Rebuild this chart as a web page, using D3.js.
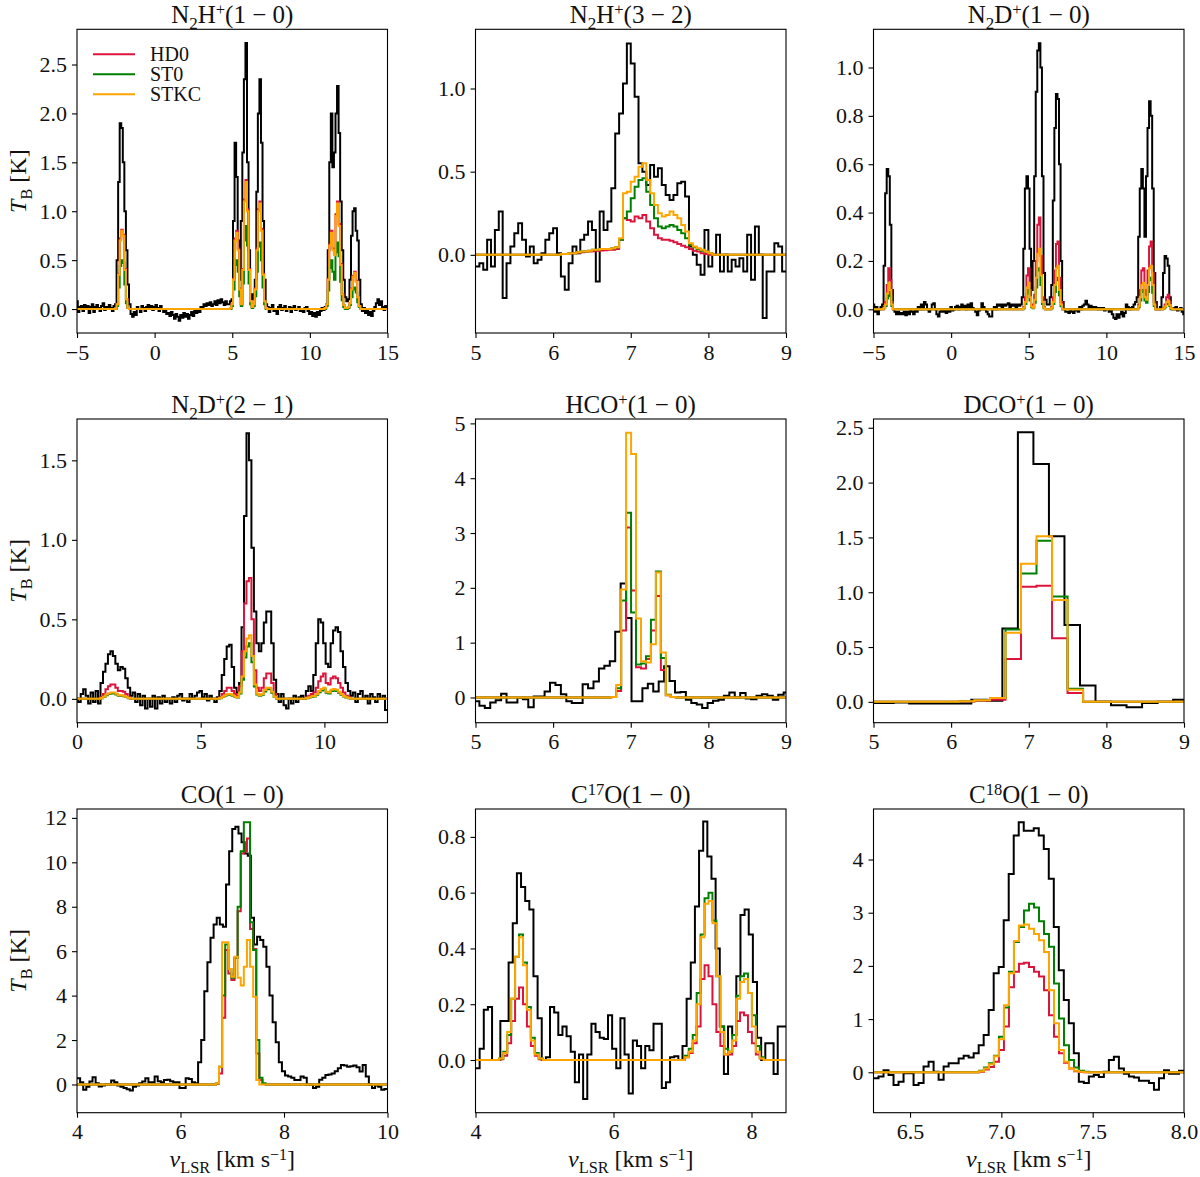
<!DOCTYPE html>
<html><head><meta charset="utf-8">
<script src="https://cdn.jsdelivr.net/npm/d3@7"></script>
<style>body{margin:0;background:#fff}</style>
</head><body>
<svg id="chart" width="1200" height="1177"></svg>
<script>
// ---------------- DATA ----------------
// observed spectra: grid = [first channel centre (km/s), channel width]
const p1_grid = [-5.0, 0.1];
const p1_obs = [0.08,-0.03,0.02,0.03,-0.02,0.04,0.0,0.03,-0.04,0.02,0.05,-0.03,0.02,0.04,0.01,-0.02,0.03,0.06,-0.01,0.02,0.0,0.04,0.01,-0.02,0.03,
0.05,0.5,1.3,1.9,1.85,1.5,1.0,0.6,0.25,0.05,
-0.05,-0.08,-0.03,-0.06,0.02,0.0,-0.03,0.03,0.01,-0.02,0.02,0.04,0.0,0.03,-0.01,
0.02,0.04,0.01,-0.02,0.03,0.0,-0.03,-0.01,-0.05,-0.04,-0.07,-0.03,-0.06,-0.1,-0.05,-0.08,-0.12,-0.06,-0.09,-0.04,
-0.08,-0.05,-0.1,-0.06,-0.03,-0.07,-0.02,-0.04,0.0,-0.03,0.02,0.01,0.05,0.03,0.06,0.04,0.07,0.03,0.05,0.08,0.04,0.09,0.06,0.1,0.07,0.04,0.08,0.05,0.05,0.08,
0.1,0.9,1.7,1.35,0.7,0.3,0.9,1.6,2.35,2.72,1.5,0.6,0.15,0.1,0.15,0.3,1.2,2.0,2.35,1.7,0.9,0.3,0.05,
0.02,-0.03,0.01,0.04,-0.02,0.0,-0.05,0.02,0.04,-0.01,0.01,0.03,-0.02,0.0,0.02,-0.03,0.01,0.03,-0.01,0.0,0.02,-0.02,0.0,-0.03,0.01,0.02,-0.02,-0.05,-0.03,-0.07,-0.04,-0.08,-0.03,-0.06,-0.02,0.01,-0.01,0.02,
0.05,0.6,1.5,2.0,1.45,1.6,2.0,2.28,1.8,1.1,0.6,0.3,0.12,0.08,0.1,0.3,0.75,1.0,1.03,0.8,0.7,0.3,0.05,
-0.02,0.01,-0.04,-0.02,-0.06,-0.03,-0.07,-0.02,0.02,0.06,0.1,0.04,0.08,0.02,-0.01,0.03,0.01];
// model spectra: segments [first channel centre, values]; zero elsewhere
const p1_modDv = 0.1;
const p1_HD0 = [[-2.5,[0.0,0.05,0.36,0.72,0.81,0.76,0.41,0.1,0.01]],
 [4.9,[0.01,0.05,0.31,0.72,0.8,0.62,0.21,0.05,0.41,1.12,1.32,1.02,0.41,0.08,0.02,0.05,0.21,0.62,1.02,1.1,0.82,0.36,0.08,0.01]],
 [11.0,[0.01,0.05,0.31,0.66,0.8,0.62,0.56,0.97,1.1,0.87,0.46,0.15,0.04,0.01,0.01,0.02,0.06,0.21,0.34,0.38,0.29,0.12,0.03,0.0]]];
const p1_ST0 = [[-2.5,[0.0,0.03,0.22,0.44,0.5,0.47,0.25,0.06,0.01]],
 [4.9,[0.0,0.03,0.2,0.45,0.5,0.38,0.13,0.03,0.26,0.7,0.85,0.65,0.26,0.05,0.01,0.03,0.13,0.38,0.64,0.68,0.5,0.22,0.05,0.0]],
 [11.0,[0.0,0.03,0.19,0.42,0.5,0.38,0.3,0.58,0.68,0.54,0.28,0.09,0.02,0.0,0.0,0.01,0.04,0.12,0.2,0.22,0.17,0.07,0.02,0.0]]];
const p1_STKC = [[-2.5,[0.0,0.05,0.35,0.7,0.8,0.75,0.4,0.1,0.01]],
 [4.9,[0.01,0.05,0.3,0.7,0.78,0.6,0.2,0.05,0.4,1.1,1.3,1.0,0.4,0.08,0.02,0.05,0.2,0.6,1.0,1.08,0.8,0.35,0.08,0.01]],
 [11.0,[0.01,0.05,0.3,0.65,0.78,0.6,0.55,0.95,1.08,0.85,0.45,0.15,0.04,0.01,0.01,0.02,0.06,0.2,0.33,0.37,0.28,0.12,0.03,0.0]]];

const p2_grid = [5.025, 0.05];
const p2_obs = [-0.07,-0.05,-0.09,0.09,-0.07,0.15,0.26,-0.26,-0.05,0.05,0.13,0.19,0.09,-0.01,0.05,-0.05,-0.03,0.01,0.09,0.13,
0.16,0.01,-0.13,-0.21,-0.05,0.05,0.01,0.09,0.12,0.2,0.15,-0.16,0.26,0.15,0.2,0.4,0.73,0.85,1.03,1.27,
1.15,0.95,0.55,0.5,0.42,0.54,0.47,0.52,0.42,0.36,0.33,0.36,0.43,0.44,0.35,0.05,0.0,-0.06,-0.12,0.15,
-0.07,0.0,0.12,-0.1,0.0,-0.1,-0.03,-0.07,-0.02,-0.1,0.12,-0.15,0.17,0.0,-0.38,-0.1,-0.1,0.07,0.05,-0.1];
const p2_modDv = 0.05;
const p2_HD0 = [[6.025,[0,0,0.005,0.005,0.01,0.01,0.012,0.015,0.018,0.02,0.022,0.024,0.026,0.028,0.03,0.03,0.035,0.09,0.22,0.21,0.2,0.23,0.22,0.24,0.2,0.16,0.12,0.1,0.09,0.09,0.085,0.075,0.065,0.055,0.045,0.035,0.025,0.02,0.01,0.005,0]]];
const p2_ST0 = [[6.025,[0,0,0.005,0.005,0.01,0.01,0.015,0.02,0.02,0.025,0.03,0.03,0.035,0.035,0.035,0.04,0.045,0.09,0.22,0.26,0.34,0.41,0.45,0.46,0.38,0.3,0.22,0.17,0.16,0.17,0.18,0.17,0.15,0.13,0.1,0.06,0.045,0.035,0.025,0.02,0.01]]];
const p2_STKC = [[6.025,[0,0,0.005,0.005,0.01,0.01,0.015,0.02,0.02,0.025,0.03,0.03,0.035,0.035,0.035,0.04,0.045,0.1,0.37,0.38,0.44,0.47,0.53,0.55,0.45,0.37,0.3,0.25,0.23,0.24,0.26,0.24,0.22,0.18,0.14,0.07,0.05,0.04,0.03,0.02,0.01]]];

const p3_grid = [-5.0, 0.1];
const p3_obs = [0.02,-0.01,0.01,-0.02,0.0,0.01,0.02,0.18,0.48,0.58,0.55,0.35,0.08,0.0,
-0.01,-0.02,-0.01,-0.02,-0.015,-0.02,-0.01,-0.025,-0.01,-0.02,
0.0,-0.01,-0.02,0.0,-0.01,0.01,0.0,0.02,0.0,0.03,
0.02,0.0,-0.01,0.0,0.02,0.025,0.0,-0.02,-0.03,-0.01,
0.0,-0.01,0.0,-0.015,0.0,-0.01,0.01,-0.005,0.0,0.01,
0.015,0.0,0.01,0.02,0.005,0.015,0.0,0.02,0.01,0.025,
0.005,0.0,-0.01,-0.025,-0.005,0.0,0.025,0.01,0.0,-0.01,
-0.02,-0.03,-0.03,0.0,0.01,0.0,0.02,0.015,0.02,0.01,
0.02,0.015,0.02,0.025,0.01,0.02,0.015,0.02,0.01,0.02,0.015,0.02,
0.05,0.25,0.5,0.55,0.5,0.25,0.08,0.2,0.55,0.9,1.07,1.1,1.0,0.55,0.15,0.04,0.02,0.02,0.05,0.1,0.45,0.75,0.89,0.87,0.6,0.2,0.03,0.0,
-0.01,-0.01,-0.015,-0.005,-0.01,-0.015,-0.005,0.0,-0.01,0.01,0.0,0.015,0.02,0.035,0.02,0.01,0.015,0.005,0.01,0.01,0.005,0.0,0.005,0.0,0.005,-0.005,0.0,0.0,-0.01,0.0,-0.02,-0.035,-0.04,-0.02,-0.035,-0.02,-0.01,-0.03,-0.015,0.02,0.01,0.0,0.005,0.01,0.02,0.03,
0.05,0.3,0.5,0.58,0.5,0.3,0.55,0.75,0.86,0.8,0.5,0.15,0.03,0.0,0.0,0.01,0.05,0.15,0.22,0.21,0.18,0.05,0.0,0.005,0.0,0.01,-0.005,0.0,0.005,-0.01,-0.02];
const p3_modDv = 0.1;
const p3_HD0 = [[-4.4,[0.0,0.01,0.03,0.1,0.17,0.12,0.03,0.0]],
 [4.6,[0.0,0.01,0.05,0.14,0.17,0.08,0.02,0.01,0.06,0.2,0.35,0.38,0.22,0.05,0.01,0,0,0,0,0.01,0.05,0.16,0.27,0.28,0.13,0.03,0.0]],
 [12.0,[0.0,0.02,0.08,0.16,0.17,0.08,0.06,0.16,0.26,0.28,0.15,0.03,0,0,0,0,0,0.005,0.02,0.05,0.06,0.03,0.005,0]]];
const p3_ST0 = [[-4.4,[0.0,0.004,0.014,0.045,0.075,0.055,0.014,0.0]],
 [4.6,[0.0,0.004,0.022,0.065,0.08,0.036,0.009,0.004,0.027,0.09,0.16,0.17,0.1,0.022,0.004,0,0,0,0,0.004,0.022,0.072,0.12,0.13,0.058,0.013,0.0]],
 [12.0,[0.0,0.009,0.036,0.072,0.08,0.036,0.027,0.072,0.12,0.13,0.068,0.014,0,0,0,0,0,0.002,0.009,0.022,0.027,0.014,0.002,0]]];
const p3_STKC = [[-4.4,[0.0,0.005,0.02,0.065,0.11,0.08,0.02,0.0]],
 [4.6,[0.0,0.006,0.03,0.09,0.11,0.05,0.012,0.006,0.04,0.13,0.23,0.25,0.14,0.03,0.006,0,0,0,0,0.006,0.03,0.1,0.17,0.18,0.08,0.02,0.0]],
 [12.0,[0.0,0.013,0.05,0.1,0.11,0.05,0.04,0.1,0.17,0.18,0.1,0.02,0,0,0,0,0,0.003,0.012,0.03,0.035,0.018,0.003,0]]];

const p4_grid = [0.0, 0.1];
const p4_obs = [0.0,-0.02,0.03,0.06,0.02,-0.03,0.04,-0.02,0.05,-0.03,
0.1,0.17,0.22,0.28,0.3,0.27,0.22,0.18,0.2,0.19,0.13,0.07,0.02,0.04,
-0.02,0.03,-0.04,0.02,-0.06,0.0,-0.05,0.02,-0.06,0.01,-0.03,0.02,-0.02,0.0,-0.03,0.01,-0.02,0.02,0.03,-0.01,0.0,-0.02,0.03,0.0,0.02,0.04,0.05,0.01,0.03,-0.01,0.02,0.0,-0.02,0.01,
0.05,0.15,0.25,0.33,0.34,0.2,0.07,0.04,0.1,0.45,1.15,1.67,1.5,0.95,0.55,0.35,0.3,0.35,0.48,0.55,0.55,0.35,0.12,0.03,
-0.02,0.03,-0.04,-0.06,0.0,-0.03,0.02,-0.02,0.01,0.02,0.0,0.05,0.08,0.05,0.15,0.35,0.5,0.48,0.35,0.22,0.2,0.35,0.43,0.45,0.42,0.3,0.2,0.1,0.05,0.02,
0.04,-0.02,0.03,0.05,0.0,0.02,-0.03,0.03,0.01,-0.02,0.03,0.0,0.02,-0.07];
const p4_modDv = 0.1;
const p4_HD0 = [[0.9,[0.0,0.01,0.03,0.06,0.08,0.09,0.09,0.07,0.05,0.05,0.045,0.03,0.01,0.0]],
 [5.7,[0.0,0.01,0.03,0.05,0.07,0.07,0.05,0.03,0.02,0.08,0.3,0.6,0.74,0.76,0.5,0.18,0.07,0.05,0.07,0.13,0.16,0.16,0.1,0.03,0.0]],
 [9.2,[0.0,0.01,0.02,0.03,0.04,0.07,0.11,0.14,0.16,0.1,0.09,0.13,0.14,0.13,0.1,0.07,0.04,0.02,0.01,0.0]]];
const p4_ST0 = [[0.9,[0,0.004,0.011,0.023,0.03,0.034,0.034,0.027,0.019,0.019,0.017,0.011,0.004,0]],
 [5.7,[0,0.004,0.011,0.019,0.025,0.025,0.019,0.011,0.008,0.034,0.12,0.26,0.33,0.35,0.23,0.077,0.027,0.019,0.026,0.047,0.06,0.06,0.038,0.011,0]],
 [9.2,[0,0.004,0.008,0.012,0.015,0.026,0.042,0.053,0.06,0.038,0.034,0.05,0.053,0.05,0.038,0.026,0.015,0.008,0.004,0]]];
const p4_STKC = [[0.9,[0,0.005,0.013,0.027,0.036,0.04,0.04,0.032,0.023,0.022,0.02,0.013,0.005,0]],
 [5.7,[0,0.005,0.013,0.022,0.03,0.03,0.022,0.013,0.01,0.04,0.14,0.3,0.38,0.4,0.27,0.09,0.032,0.022,0.03,0.055,0.07,0.07,0.045,0.013,0]],
 [9.2,[0,0.005,0.01,0.014,0.018,0.03,0.05,0.062,0.07,0.045,0.04,0.058,0.062,0.058,0.045,0.03,0.018,0.01,0.005,0]]];

const p5_grid = [5.015, 0.07];
const p5_obs = [-0.07,-0.15,-0.19,-0.09,-0.05,0.07,-0.09,-0.09,-0.01,-0.03,-0.18,0.02,0.02,0.11,0.27,0.23,0.06,-0.07,-0.1,-0.1,
0.24,0.17,0.29,0.53,0.58,0.66,1.2,2.08,1.45,-0.07,-0.07,0.17,0.25,0.11,0.29,0.57,0.3,0.09,0.1,-0.04,
-0.1,-0.13,-0.19,-0.1,-0.06,-0.04,0.03,0.09,0.0,0.08,-0.02,-0.03,0.03,0.06,0.03,-0.04,0.05,0.09];
const p5_modDv = 0.064;
const p5_HD0 = [[6.652,[0,0,0.01,0.12,1.22,3.1,1.95,0.55,0.53,0.7,1.22,1.85,0.5,0.04,0.01,0]]];
const p5_ST0 = [[6.652,[0,0,0.01,0.17,1.77,3.37,1.55,0.6,0.62,0.75,1.42,2.3,0.72,0.05,0.01,0]]];
const p5_STKC = [[6.652,[0,0,0.01,0.23,1.97,4.83,4.44,1.44,0.66,0.64,0.97,2.28,0.82,0.04,0.01,0]]];

const p6_grid = [4.96, 0.2];
const p6_obs = [-0.01,-0.01,-0.005,-0.015,-0.015,-0.015,-0.015,0.02,0.01,0.67,2.46,2.17,1.51,0.7,0.15,0.0,-0.03,-0.05,-0.01,0.0,0.02];
const p6_modDv = 0.2;
const p6_HD0 = [[5.0,[0,0,0,0,0,0,0.003,0.01,0.02,0.39,1.05,1.06,0.58,0.08,0,0,0,0,0,0,0]]];
const p6_ST0 = [[5.0,[0,0,0,0,0,0,0.005,0.015,0.035,0.66,1.17,1.47,0.96,0.12,0,0,0,0,0,0,0]]];
const p6_STKC = [[5.0,[0,0,0,0,0,0,0.005,0.015,0.035,0.63,1.26,1.51,0.93,0.11,0,0,0,0,0,0,0]]];

const p7_grid = [4.03, 0.06];
const p7_obs = [0.28,0.1,-0.24,-0.1,0.13,0.33,0.05,-0.09,-0.05,0.0,0.0,0.18,0.1,-0.05,-0.1,-0.16,-0.22,-0.27,-0.1,-0.05,
0.05,0.13,0.28,0.1,0.1,0.36,0.15,0.1,0.2,0.21,0.15,0.1,0.1,-0.16,-0.16,0.28,0.25,0.1,0.05,1.0,
2.0,4.2,5.5,6.6,7.2,7.5,7.2,7.1,9.0,10.5,11.5,11.6,11.3,10.9,10.4,10.3,7.5,6.3,6.65,6.5,
6.2,5.3,4.0,2.8,1.9,1.0,0.6,0.4,0.36,0.3,0.2,0.2,0.36,0.3,0.0,-0.01,-0.16,-0.1,0.21,0.3,
0.43,0.45,0.5,0.6,0.73,0.88,0.85,0.8,0.82,0.85,0.78,0.58,0.88,0.36,0.0,-0.16,-0.05,-0.1,-0.24,-0.2];
const p7_modDv = 0.06;
const p7_HD0 = [[6.714,[0.03,0.5,3.0,6.05,5.0,4.7,5.7,7.8,10.4,10.5,11.07,7.0,6.1,1.4,0.2,0.02]]];
const p7_ST0 = [[6.714,[0.05,0.8,4.0,6.3,5.2,4.8,5.7,8.0,10.5,11.8,11.8,7.3,6.05,2.0,0.3,0.05]]];
const p7_STKC = [[6.714,[0.05,0.8,6.4,6.4,5.2,4.85,5.75,4.8,4.45,5.3,6.5,5.3,3.95,0.2,0.0,0.0]]];

const p8_grid = [4.03, 0.06];
const p8_obs = [-0.03,0.04,0.18,0.19,0.0,0.0,0.14,0.14,0.35,0.49,0.67,0.62,0.57,0.54,0.3,0.15,0.0,0.01,0.19,0.17,
0.09,0.12,0.085,0.03,-0.08,0.02,-0.14,0.02,0.13,0.1,0.08,0.075,0.16,0.04,-0.03,0.15,0.02,-0.12,0.07,0.05,
-0.03,0.05,0.035,0.13,0.13,-0.1,-0.08,0.01,0.013,0.0,0.05,0.22,0.35,0.55,0.75,0.855,0.73,0.65,0.4,0.12,
-0.05,0.12,0.09,0.3,0.52,0.54,0.45,0.28,0.08,0.0,0.06,0.06,-0.05,0.12,0.12];
const p8_modDv = 0.0572;
const p8_HD0 = [[4.3736,[0.003,0.015,0.06,0.14,0.22,0.26,0.2,0.12,0.05,0.015,0.003]],
 [7.0622,[0.01,0.025,0.06,0.12,0.29,0.34,0.3,0.2,0.1,0.05,0.02,0.02,0.05,0.14,0.17,0.16,0.1,0.06,0.02,0.005]]];
const p8_ST0 = [[4.3736,[0.005,0.03,0.09,0.22,0.37,0.45,0.35,0.19,0.08,0.025,0.005]],
 [7.0622,[0.015,0.04,0.09,0.24,0.45,0.58,0.6,0.5,0.3,0.12,0.04,0.03,0.09,0.23,0.3,0.31,0.24,0.16,0.05,0.01]]];
const p8_STKC = [[4.3736,[0.005,0.025,0.1,0.22,0.37,0.44,0.34,0.18,0.07,0.02,0.005]],
 [7.0622,[0.01,0.03,0.07,0.2,0.44,0.56,0.57,0.49,0.3,0.1,0.02,0.03,0.07,0.22,0.28,0.29,0.24,0.12,0.03,0.005]]];

const p9_grid = [6.3137, 0.02742];
const p9_obs = [-0.11,-0.08,0.04,-0.05,-0.24,-0.18,-0.02,-0.02,-0.24,-0.2,0.11,0.2,0.01,-0.14,0.11,0.17,0.17,0.26,0.31,0.28,
0.36,0.51,0.7,1.17,1.86,1.98,2.86,3.73,4.45,4.7,4.54,4.54,4.59,4.45,4.2,3.64,2.73,1.92,1.36,0.92,
0.36,-0.18,-0.2,-0.08,-0.05,-0.09,0.01,0.23,0.29,0.07,-0.03,-0.08,-0.1,-0.16,-0.16,-0.2,-0.33,-0.11,0.04,-0.03,-0.03,0.03];
const p9_modDv = 0.0274;
const p9_HD0 = [[6.8909,[0.01,0.05,0.1,0.2,0.42,0.86,1.6,1.89,2.04,2.06,1.98,1.89,1.8,1.54,1.07,0.67,0.36,0.18,0.07,0.02,0.005,0]]];
const p9_ST0 = [[6.8909,[0.03,0.09,0.17,0.31,0.67,1.22,1.89,2.45,2.73,3.04,3.17,3.1,2.84,2.6,2.36,1.67,1.01,0.51,0.23,0.09,0.03,0.01]]];
const p9_STKC = [[6.8909,[0.02,0.07,0.15,0.3,0.62,1.26,1.86,2.47,2.76,2.78,2.7,2.6,2.48,2.26,1.54,0.92,0.42,0.2,0.07,0.03,0.01,0]]];

// tick values
const p1_xt = [-5,0,5,10,15], p1_yt = [0,0.5,1.0,1.5,2.0,2.5];
const p2_xt = [5,6,7,8,9],     p2_yt = [0,0.5,1.0];
const p3_xt = [-5,0,5,10,15], p3_yt = [0,0.2,0.4,0.6,0.8,1.0];
const p4_xt = [0,5,10],        p4_yt = [0,0.5,1.0,1.5];
const p5_xt = [5,6,7,8,9],     p5_yt = [0,1,2,3,4,5];
const p6_xt = [5,6,7,8,9],     p6_yt = [0,0.5,1.0,1.5,2.0,2.5];
const p7_xt = [4,6,8,10],      p7_yt = [0,2,4,6,8,10,12];
const p8_xt = [4,6,8],         p8_yt = [0,0.2,0.4,0.6,0.8];
const p9_xt = [6.5,7.0,7.5,8.0], p9_yt = [0,1,2,3,4];

// titles: [text, mode]
const p1_title = [['N',''],['2','sub'],['H',''],['+','sup'],['(1 − 0)','']];
const p2_title = [['N',''],['2','sub'],['H',''],['+','sup'],['(3 − 2)','']];
const p3_title = [['N',''],['2','sub'],['D',''],['+','sup'],['(1 − 0)','']];
const p4_title = [['N',''],['2','sub'],['D',''],['+','sup'],['(2 − 1)','']];
const p5_title = [['HCO',''],['+','sup'],['(1 − 0)','']];
const p6_title = [['DCO',''],['+','sup'],['(1 − 0)','']];
const p7_title = [['CO(1 − 0)','']];
const p8_title = [['C',''],['17','sup'],['O(1 − 0)','']];
const p9_title = [['C',''],['18','sup'],['O(1 − 0)','']];
const modelNames = ['HD0','ST0','STKC'];
const yLabel = [['T','i'],['B','sub'],[' [K]','']];
const xLabel = [['v','i'],['LSR','sub'],[' [km s',''],['−1','sup'],[']','']];

// ---------------- DRAWING ----------------
const FONT = '"Liberation Serif","Times New Roman",serif';
const COLORS = {HD0:'#dc143c', ST0:'#008000', STKC:'#ffa500'};
const colLeft = [77, 475.5, 873.5], rowTop = [29.3, 419, 809];
const PW = 310.5, PH = 303.7;

const panels = [
 {title:p1_title, xd:[-5,15], yd:[-0.245,2.86], xt:p1_xt, yt:p1_yt, xf:'d', yf:'.1f', grid:p1_grid, obs:p1_obs, dv:p1_modDv, mods:{HD0:p1_HD0,ST0:p1_ST0,STKC:p1_STKC}},
 {title:p2_title, xd:[5,9], yd:[-0.47,1.356], xt:p2_xt, yt:p2_yt, xf:'d', yf:'.1f', grid:p2_grid, obs:p2_obs, dv:p2_modDv, mods:{HD0:p2_HD0,ST0:p2_ST0,STKC:p2_STKC}},
 {title:p3_title, xd:[-5,15], yd:[-0.098,1.158], xt:p3_xt, yt:p3_yt, xf:'d', yf:'.1f', grid:p3_grid, obs:p3_obs, dv:p3_modDv, mods:{HD0:p3_HD0,ST0:p3_ST0,STKC:p3_STKC}},
 {title:p4_title, xd:[0,12.55], yd:[-0.15,1.76], xt:p4_xt, yt:p4_yt, xf:'d', yf:'.1f', grid:p4_grid, obs:p4_obs, dv:p4_modDv, mods:{HD0:p4_HD0,ST0:p4_ST0,STKC:p4_STKC}},
 {title:p5_title, xd:[5,9], yd:[-0.46,5.08], xt:p5_xt, yt:p5_yt, xf:'d', yf:'d', grid:p5_grid, obs:p5_obs, dv:p5_modDv, mods:{HD0:p5_HD0,ST0:p5_ST0,STKC:p5_STKC}},
 {title:p6_title, xd:[5,9], yd:[-0.19,2.58], xt:p6_xt, yt:p6_yt, xf:'d', yf:'.1f', grid:p6_grid, obs:p6_obs, dv:p6_modDv, mods:{HD0:p6_HD0,ST0:p6_ST0,STKC:p6_STKC}},
 {title:p7_title, xd:[4,10], yd:[-1.27,12.4], xt:p7_xt, yt:p7_yt, xf:'d', yf:'d', grid:p7_grid, obs:p7_obs, dv:p7_modDv, mods:{HD0:p7_HD0,ST0:p7_ST0,STKC:p7_STKC}},
 {title:p8_title, xd:[4,8.5], yd:[-0.189,0.9], xt:p8_xt, yt:p8_yt, xf:'d', yf:'.1f', grid:p8_grid, obs:p8_obs, dv:p8_modDv, mods:{HD0:p8_HD0,ST0:p8_ST0,STKC:p8_STKC}},
 {title:p9_title, xd:[6.3,8.0], yd:[-0.76,4.95], xt:p9_xt, yt:p9_yt, xf:'.1f', yf:'d', grid:p9_grid, obs:p9_obs, dv:p9_modDv, mods:{HD0:p9_HD0,ST0:p9_ST0,STKC:p9_STKC}}
];

const svg = d3.select('#chart');
const defs = svg.append('defs');

function stepPoints(c0, dv, vals) {
  const pts = vals.map((v, i) => [c0 - dv / 2 + i * dv, v]);
  pts.push([c0 - dv / 2 + vals.length * dv, vals[vals.length - 1]]);
  return pts;
}
function modelPoints(dv, segs, x0, x1) {
  const pts = [[x0, 0]];
  segs.forEach(([c0, vals]) => {
    vals.forEach((v, i) => pts.push([c0 - dv / 2 + i * dv, v]));
    pts.push([c0 - dv / 2 + vals.length * dv, 0]);
  });
  pts.push([x1, 0]);
  return pts;
}
function richText(textSel, parts, size) {
  let cur = 0;
  parts.forEach(([t, m]) => {
    let target = 0, fs = size;
    if (m === 'sub') { target = size * 0.24; fs = size * 0.68; }
    if (m === 'sup') { target = -size * 0.3; fs = size * 0.66; }
    const ts = textSel.append('tspan').text(t).attr('font-size', fs).attr('dy', target - cur);
    if (m === 'i') ts.attr('font-style', 'italic');
    cur = target;
  });
}

panels.forEach((cfg, i) => {
  const col = i % 3, row = Math.floor(i / 3);
  const g = svg.append('g').attr('transform', `translate(${colLeft[col]},${rowTop[row]})`);
  const x = d3.scaleLinear().domain(cfg.xd).range([0, PW]);
  const y = d3.scaleLinear().domain(cfg.yd).range([PH, 0]);
  const cid = 'clip' + i;
  defs.append('clipPath').attr('id', cid).append('rect').attr('width', PW).attr('height', PH);
  const plot = g.append('g').attr('clip-path', `url(#${cid})`);
  const line = d3.line().x(d => x(d[0])).y(d => y(d[1])).curve(d3.curveStepAfter);

  plot.append('path').attr('d', line(stepPoints(cfg.grid[0], cfg.grid[1], cfg.obs)))
    .attr('fill', 'none').attr('stroke', '#000').attr('stroke-width', 2);
  modelNames.forEach(k => {
    plot.append('path').attr('d', line(modelPoints(cfg.dv, cfg.mods[k], cfg.xd[0] - 1, cfg.xd[1] + 1)))
      .attr('fill', 'none').attr('stroke', COLORS[k]).attr('stroke-width', 2);
  });

  // frame
  g.append('rect').attr('width', PW).attr('height', PH).attr('fill', 'none')
    .attr('stroke', '#000').attr('stroke-width', 1.1);

  const xa = g.append('g').attr('transform', `translate(0,${PH})`)
    .call(d3.axisBottom(x).tickValues(cfg.xt).tickFormat(d3.format(cfg.xf)).tickSize(5).tickPadding(6).tickSizeOuter(0));
  const ya = g.append('g')
    .call(d3.axisLeft(y).tickValues(cfg.yt).tickFormat(d3.format(cfg.yf)).tickSize(5).tickPadding(5).tickSizeOuter(0));
  [xa, ya].forEach(a => {
    a.select('.domain').remove();
    a.selectAll('line').attr('stroke', '#000').attr('stroke-width', 1.1);
    a.selectAll('text').style('font-family', FONT).style('font-size', '22px').attr('fill', '#111');
  });

  // title
  const tt = g.append('text').attr('x', PW / 2).attr('y', -6.5).attr('text-anchor', 'middle')
    .style('font-family', FONT).attr('fill', '#111');
  richText(tt, cfg.title, 25);

  if (col === 0) {
    const yl = svg.append('text').attr('transform', `translate(26,${rowTop[row] + PH / 2}) rotate(-90)`)
      .attr('text-anchor', 'middle').style('font-family', FONT).attr('fill', '#111');
    richText(yl, yLabel, 24);
  }
  if (row === 2) {
    const xl = svg.append('text').attr('x', colLeft[col] + PW / 2).attr('y', 1167)
      .attr('text-anchor', 'middle').style('font-family', FONT).attr('fill', '#111');
    richText(xl, xLabel, 24);
  }
  if (i === 0) {
    modelNames.forEach((k, j) => {
      const ly = 25 + j * 20;
      g.append('line').attr('x1', 16).attr('x2', 58).attr('y1', ly).attr('y2', ly)
        .attr('stroke', COLORS[k]).attr('stroke-width', 2);
      g.append('text').attr('x', 73).attr('y', ly + 7).text(k)
        .style('font-family', FONT).style('font-size', '20px').attr('fill', '#111');
    });
  }
});
</script>
</body></html>
